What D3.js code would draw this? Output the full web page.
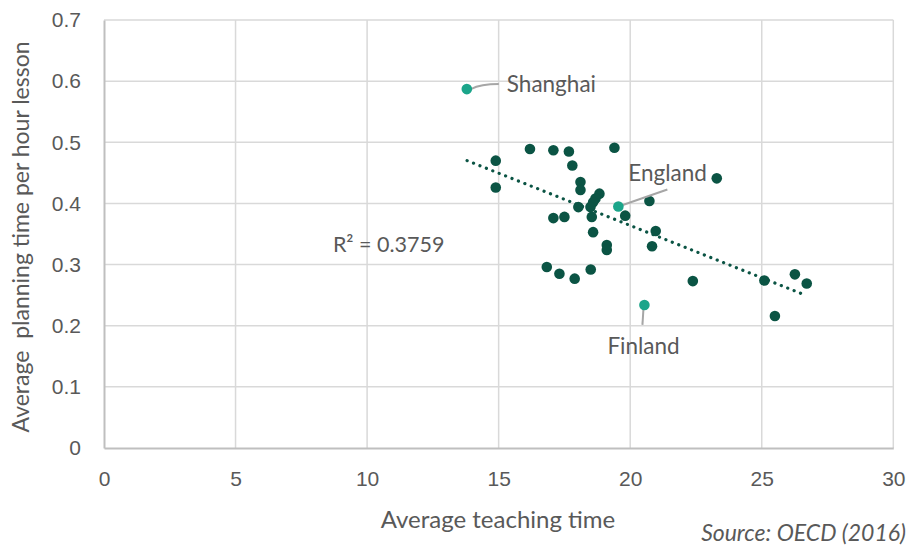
<!DOCTYPE html>
<html>
<head>
<meta charset="utf-8">
<script src="https://cdn.jsdelivr.net/npm/d3@7"></script>
<style>
  body { margin: 0; background: #fff; }
  svg { font-family: Lato, "Open Sans", sans-serif; }
</style>
</head>
<body>
<svg id="chart"></svg>
<script>
// teaching time (x) vs planning time per hour lesson (y)
var teachX = [16.19, 17.08, 17.67, 19.40, 14.89, 17.80, 14.89, 18.11, 18.11, 18.83,
	18.68, 18.59, 18.49, 18.03, 20.73, 23.29, 19.81, 17.08, 17.50, 18.54,
	18.59, 20.97, 19.11, 19.11, 20.83, 16.83, 17.31, 17.89, 18.50, 22.38,
	25.10, 26.26, 26.71, 25.50];
var planY = [0.489, 0.487, 0.485, 0.491, 0.470, 0.462, 0.426, 0.435, 0.422, 0.416,
	0.408, 0.402, 0.394, 0.394, 0.404, 0.441, 0.380, 0.376, 0.378, 0.378,
	0.353, 0.355, 0.332, 0.324, 0.330, 0.296, 0.285, 0.277, 0.292, 0.273,
	0.274, 0.284, 0.269, 0.216];

var highlightNames = ["Shanghai", "England", "Finland"];
var highlightX = [13.79, 19.55, 20.54];
var highlightY = [0.587, 0.395, 0.234];

// linear trend line as drawn (end points)
var trendX = [13.8, 26.6];
var trendY = [0.470, 0.251];
var rSquared = "R² = 0.3759";

var xTicks = [0, 5, 10, 15, 20, 25, 30];
var yTicks = [0, 0.1, 0.2, 0.3, 0.4, 0.5, 0.6, 0.7];

var W = 908, H = 549;
var margin = { top: 20, right: 15, bottom: 101, left: 104 },
	width = 893.3 - margin.left,
	height = H - margin.top - margin.bottom;

var darkGreen = "#0b5444",
	teal = "#1ba58a",
	textGrey = "#595959";

var svg = d3.select("#chart").attr("width", W).attr("height", H);
var g = svg.append("g")
	.attr("transform", "translate(" + margin.left + "," + margin.top + ")");

var x = d3.scaleLinear().domain([0, 30]).range([0, width]);
var y = d3.scaleLinear().domain([0, 0.7]).range([height, 0]);

// gridlines
g.selectAll(".hgrid")
	.data(yTicks.slice(1))
	.enter().append("line")
	.attr("class", "hgrid")
	.attr("x1", 0).attr("x2", width)
	.attr("y1", function(d) { return y(d); })
	.attr("y2", function(d) { return y(d); })
	.attr("stroke", "#d9d9d9").attr("stroke-width", 1.5);

g.selectAll(".vgrid")
	.data(xTicks.slice(1))
	.enter().append("line")
	.attr("class", "vgrid")
	.attr("y1", 0).attr("y2", height)
	.attr("x1", function(d) { return x(d); })
	.attr("x2", function(d) { return x(d); })
	.attr("stroke", "#d9d9d9").attr("stroke-width", 1.5);

// axes
var xAxis = d3.axisBottom(x).tickValues(xTicks).tickSize(0).tickPadding(23);
var yAxis = d3.axisLeft(y).tickValues(yTicks).tickSize(0).tickPadding(23)
	.tickFormat(function(d) { return d === 0 ? "0" : d3.format(".1f")(d); });

var gx = g.append("g")
	.attr("transform", "translate(0," + height + ")")
	.call(xAxis);
var gy = g.append("g").call(yAxis);

[gx, gy].forEach(function(a) {
	a.select(".domain").attr("stroke", "#bfbfbf").attr("stroke-width", 2);
	a.selectAll("text")
		.attr("fill", textGrey)
		.style("font-size", "21px");
});

// trend line
g.append("line")
	.attr("x1", x(trendX[0])).attr("y1", y(trendY[0]))
	.attr("x2", x(trendX[1])).attr("y2", y(trendY[1]))
	.attr("stroke", darkGreen)
	.attr("stroke-width", 3.2)
	.attr("stroke-dasharray", "0.1 6.8")
	.attr("stroke-linecap", "round");

g.append("text")
	.attr("x", x(8.7)).attr("y", y(0.321))
	.attr("fill", textGrey)
	.style("font-size", "21.5px")
	.text(rSquared);

// points
g.selectAll(".dot")
	.data(d3.range(teachX.length))
	.enter().append("circle")
	.attr("class", "dot")
	.attr("cx", function(i) { return x(teachX[i]); })
	.attr("cy", function(i) { return y(planY[i]); })
	.attr("r", 5.3)
	.attr("fill", darkGreen);

// highlighted countries with leader lines
var labelPos = [
	{ dx: 40, dy: 3, lx1: 4, ly1: 0, lx2: 32, ly2: -5 },
	{ dx: 10, dy: -25, lx1: 3, ly1: -1, lx2: 49, ly2: -17 },
	{ dx: -37, dy: 49, lx1: -1, ly1: 5, lx2: -2, ly2: 20 }
];

highlightNames.forEach(function(name, i) {
	var cx = x(highlightX[i]), cy = y(highlightY[i]), p = labelPos[i];
	if (i === 0) {
		g.append("path")
			.attr("d", "M" + (cx + p.lx1) + "," + (cy + p.ly1) +
				" Q" + (cx + 14) + "," + (cy - 5) + " " + (cx + p.lx2) + "," + (cy + p.ly2))
			.attr("fill", "none")
			.attr("stroke", "#a6a6a6").attr("stroke-width", 2);
	} else {
		g.append("line")
			.attr("x1", cx + p.lx1).attr("y1", cy + p.ly1)
			.attr("x2", cx + p.lx2).attr("y2", cy + p.ly2)
			.attr("stroke", "#a6a6a6").attr("stroke-width", 2);
	}
	g.append("circle")
		.attr("cx", cx).attr("cy", cy)
		.attr("r", 5.3)
		.attr("fill", teal);
	g.append("text")
		.attr("x", cx + p.dx).attr("y", cy + p.dy)
		.attr("fill", textGrey)
		.style("font-size", "22.5px")
		.text(name);
});

// axis titles
svg.append("text")
	.attr("x", 498)
	.attr("y", 528)
	.attr("text-anchor", "middle")
	.attr("fill", textGrey)
	.style("font-size", "24px")
	.text("Average teaching time");

svg.append("text")
	.attr("transform", "translate(29," + 237 + ") rotate(-90)")
	.attr("text-anchor", "middle")
	.attr("fill", textGrey)
	.style("font-size", "23px")
	.attr("xml:space", "preserve")
	.text("Average  planning time per hour lesson");

svg.append("text")
	.attr("x", 906)
	.attr("y", 541)
	.attr("text-anchor", "end")
	.attr("fill", textGrey)
	.style("font-size", "23px")
	.style("font-style", "italic")
	.text("Source: OECD (2016)");
</script>
</body>
</html>
